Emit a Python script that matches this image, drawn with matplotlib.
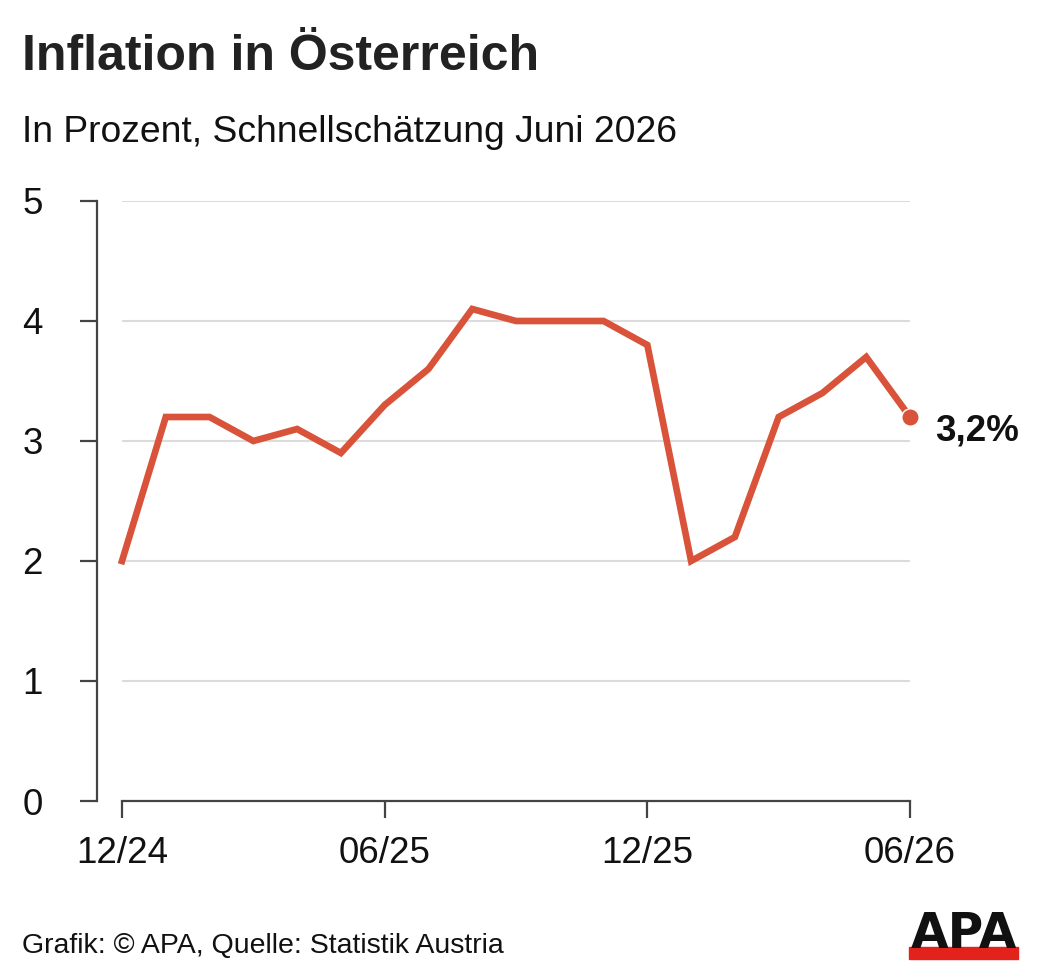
import matplotlib.pyplot as plt
from matplotlib.patches import Rectangle

plt.rcParams['font.family'] = ['Liberation Sans', 'DejaVu Sans']

# monthly inflation values 12/24 .. 06/26
months = ['12/24', '01/25', '02/25', '03/25', '04/25', '05/25', '06/25', '07/25',
          '08/25', '09/25', '10/25', '11/25', '12/25', '01/26', '02/26', '03/26',
          '04/26', '05/26', '06/26']
inflation = [2.0, 3.2, 3.2, 3.0, 3.1, 2.9, 3.3, 3.6, 4.1, 4.0, 4.0, 4.0, 3.8,
             2.0, 2.2, 3.2, 3.4, 3.7, 3.2]
tick_months = ['12/24', '06/25', '12/25', '06/26']
y_ticks = [0, 1, 2, 3, 4, 5]

RED = '#d9533a'
W, H = 1039, 980

fig = plt.figure(figsize=(W / 100, H / 100), dpi=100)
ax = fig.add_axes([122 / W, (H - 801) / H, 788 / W, 600 / H])

x = list(range(len(months)))
ax.plot(x, inflation, color=RED, lw=4.8, solid_joinstyle='miter', zorder=3,
        clip_on=False)
ax.plot(x[-1], inflation[-1], 'o', color=RED, ms=12.5, mec='white', mew=1,
        zorder=4, clip_on=False)
ax.annotate(f'{inflation[-1]:.1f}%'.replace('.', ','), (x[-1], inflation[-1]),
            xytext=(18, -10), textcoords='offset points', ha='left', va='center',
            fontsize=26.5, fontweight='bold', color='#111111', annotation_clip=False)

ax.set_xlim(0, len(months) - 1)
ax.set_ylim(0, 5)
ax.set_xticks([months.index(m) for m in tick_months])
ax.set_xticklabels(tick_months)
ax.set_yticks(y_ticks)
ax.grid(axis='y', color='#dcdcdc', lw=1.5)
ax.set_axisbelow(True)

for s in ['top', 'right']:
    ax.spines[s].set_visible(False)
ax.spines['left'].set_position(('outward', 18))
for s in ['left', 'bottom']:
    ax.spines[s].set_color('#444444')
    ax.spines[s].set_linewidth(1.6)
ax.tick_params(axis='both', length=12, width=1.6, color='#444444',
               labelsize=26.5, labelcolor='#111111')
ax.tick_params(axis='y', pad=27)
ax.tick_params(axis='x', pad=13)

fig.text(22 / W, 1 - 57 / H, 'Inflation in Österreich', fontsize=36,
         fontweight='bold', color='#222222', va='center', ha='left')
fig.text(22 / W, 1 - 133 / H, 'In Prozent, Schnellschätzung Juni 2026',
         fontsize=26.8, color='#111111', va='center', ha='left')
fig.text(22 / W, 1 - 946 / H, 'Grafik: © APA, Quelle: Statistik Austria',
         fontsize=20.5, color='#111111', va='center', ha='left')

# APA logo
fig.patches.append(Rectangle((909 / W, 1 - 959 / H), 109 / W, 12 / H,
                             transform=fig.transFigure, color='#e3221c'))
fig.text(963.5 / W, 1 - 948 / H, 'APA', fontsize=35, fontweight='bold',
         color='#111111', ha='center', va='baseline', family='DejaVu Sans')

fig.savefig('out.png', dpi=100)
